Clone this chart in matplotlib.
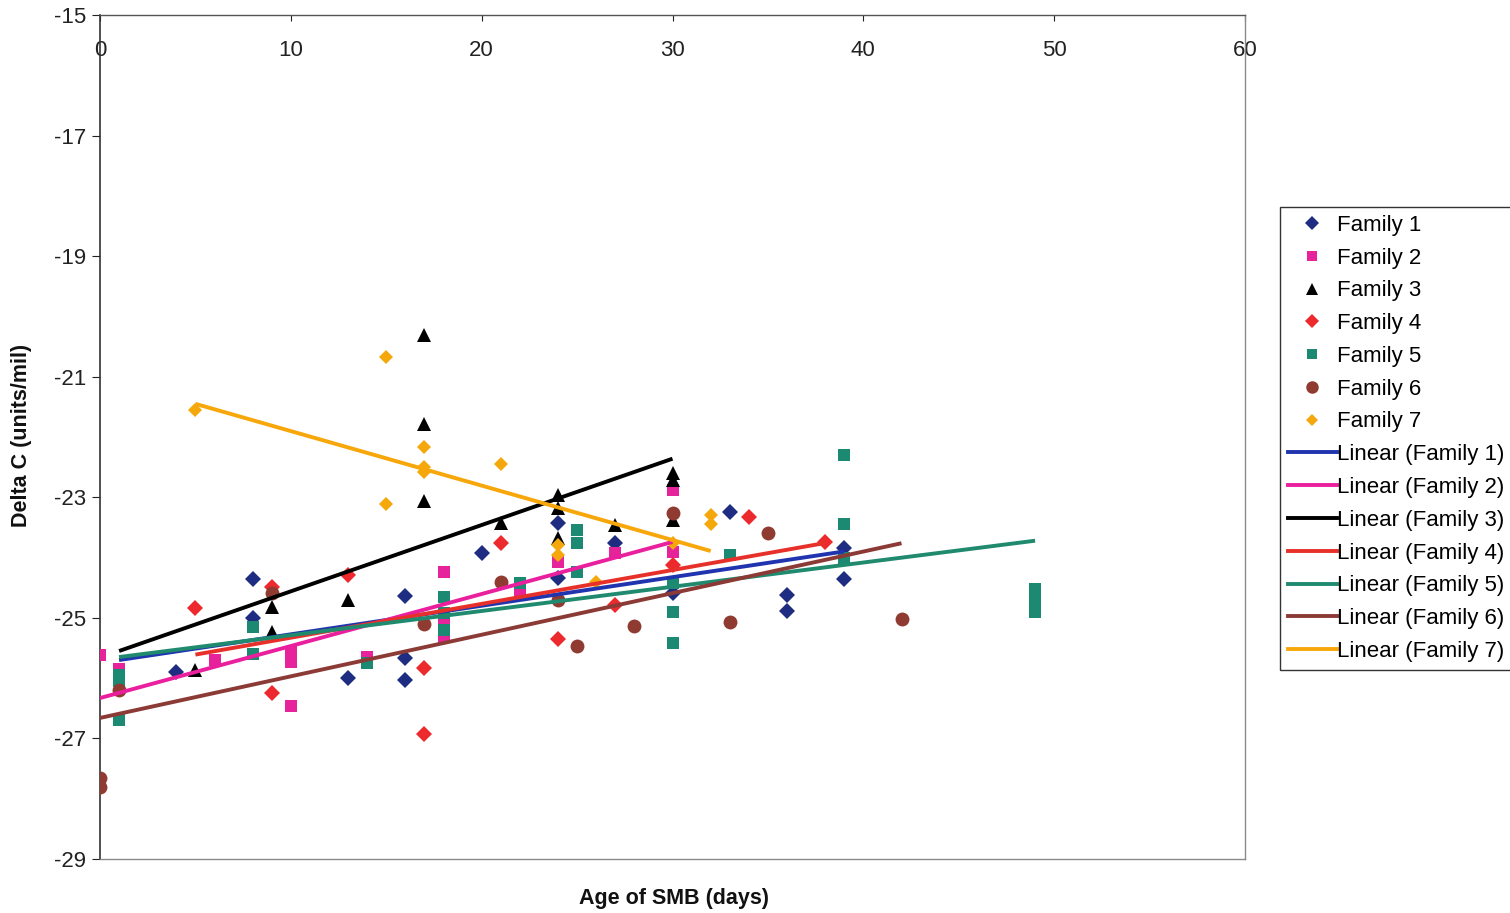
import numpy as np
import matplotlib
matplotlib.use("Agg")
import matplotlib.pyplot as plt
from matplotlib.lines import Line2D

plt.rcParams['font.family'] = ['Liberation Sans', 'DejaVu Sans']
plt.rcParams['axes.unicode_minus'] = False

# ---- data: age (days) and delta C per family ----
fam1_x = [4, 8, 8, 13, 16, 16, 16, 20, 24, 24, 27, 30, 33, 36, 36, 39, 39]
fam1_y = [-25.9, -24.35, -25.0, -26.0, -24.63, -25.66, -26.03, -23.92, -23.42, -24.34,
          -23.76, -24.59, -23.24, -24.62, -24.88, -23.84, -24.35]

fam2_x = [0, 1, 6, 10, 10, 10, 14, 18, 18, 18, 22, 24, 27, 30, 30]
fam2_y = [-25.62, -25.85, -25.7, -25.57, -25.73, -26.47, -25.65, -24.24, -25.03, -25.31,
          -24.59, -24.07, -23.92, -22.88, -23.9]

fam3_x = [5, 9, 9, 13, 17, 17, 17, 21, 24, 24, 24, 27, 30, 30, 30]
fam3_y = [-25.86, -24.82, -25.23, -24.7, -20.31, -21.78, -23.06, -23.42, -22.96, -23.18,
          -23.67, -23.46, -22.6, -22.72, -23.37]

fam4_x = [5, 9, 9, 13, 17, 17, 21, 24, 27, 30, 34, 38]
fam4_y = [-24.83, -24.49, -26.24, -24.29, -25.83, -26.92, -23.76, -25.35, -24.78, -24.12,
          -23.33, -23.74]

fam5_x = [1, 1, 1, 8, 8, 14, 18, 18, 18, 22, 25, 25, 25, 30, 30, 30, 33, 39, 39, 39, 49, 49, 49]
fam5_y = [-25.95, -26.05, -26.69, -25.15, -25.6, -25.75, -24.65, -24.92, -25.2, -24.42,
          -23.54, -23.76, -24.24, -24.42, -24.9, -25.41, -23.96, -22.3, -23.44, -24.0,
          -24.52, -24.72, -24.9]

fam6_x = [0, 0, 1, 9, 17, 21, 24, 25, 28, 30, 33, 35, 42]
fam6_y = [-27.65, -27.8, -26.2, -24.59, -25.1, -24.4, -24.7, -25.46, -25.13, -23.26,
          -25.07, -23.6, -25.02]

fam7_x = [5, 15, 15, 17, 17, 17, 21, 24, 24, 26, 30, 32, 32]
fam7_y = [-21.55, -20.67, -23.11, -22.16, -22.5, -22.58, -22.45, -23.79, -23.96, -24.4,
          -23.76, -23.3, -23.45]

# linear trendlines: slope, intercept and fitted x-span per family
fit_slope = [0.0474, 0.0863, 0.110, 0.0561, 0.0402, 0.0690, -0.0904]
fit_icpt = [-25.747, -26.33, -25.66, -25.89, -25.69, -26.66, -20.998]
fit_x0 = [1, 0, 1, 5, 1, 0, 5]
fit_x1 = [39, 30, 30, 38, 49, 42, 32]

series_x = [fam1_x, fam2_x, fam3_x, fam4_x, fam5_x, fam6_x, fam7_x]
series_y = [fam1_y, fam2_y, fam3_y, fam4_y, fam5_y, fam6_y, fam7_y]
names = [f"Family {i}" for i in range(1, 8)]

# ---- styling ----
marker_colors = ['#1e2c82', '#e6239b', '#000000', '#ec2a2e', '#1c8a72', '#8f3b31', '#f5a80c']
line_colors = ['#1f34ae', '#ea1f9e', '#000000', '#e8302a', '#1f8a6e', '#8b3a35', '#f7a70a']
markers = ['D', 's', '^', 'D', 's', 'o', 'D']
msizes = [8.0, 8.4, 10.0, 7.7, 8.4, 10.0, 7.3]

fig = plt.figure(figsize=(15.1, 9.13), dpi=100)
ax = fig.add_axes([100 / 1510, 1 - 859 / 913, 1145 / 1510, 844 / 913])

for xs, ys, c, m, s in zip(series_x, series_y, marker_colors, markers, msizes):
    ax.plot(xs, ys, linestyle='none', marker=m, markersize=s, color=c,
            markeredgewidth=0, zorder=3)

for k in range(7):
    xx = np.array([fit_x0[k], fit_x1[k]], dtype=float)
    ax.plot(xx, fit_slope[k] * xx + fit_icpt[k], color=line_colors[k], lw=2.8,
            solid_capstyle='butt', zorder=4)

ax.set_xlim(0, 60)
ax.set_ylim(-29, -15)
ax.set_xticks(np.arange(0, 61, 10))
ax.set_yticks(np.arange(-29, -14, 2))

ax.tick_params(axis='x', top=True, bottom=False, labeltop=True, labelbottom=False,
               direction='in', length=4, pad=-33, labelsize=16, colors='#222222')
ax.tick_params(axis='y', direction='out', length=6, pad=4, labelsize=16, colors='#222222')

ax.spines['left'].set_color('#333333')
ax.spines['left'].set_linewidth(1.2)
ax.spines['top'].set_color('#555555')
ax.spines['top'].set_linewidth(1.0)
ax.spines['right'].set_color('#8a8a8a')
ax.spines['right'].set_linewidth(1.0)
ax.spines['bottom'].set_color('#8a8a8a')
ax.spines['bottom'].set_linewidth(1.0)

fig.text(674 / 1510, 1 - 898 / 913, "Age of SMB (days)", ha='center', va='center',
         fontsize=15.5, fontweight='bold', color='#111111')
fig.text(22 / 1510, 1 - 435 / 913, "Delta C (units/mil)", ha='center', va='center',
         rotation=90, fontsize=15.5, fontweight='bold', color='#111111')

handles = []
for c, m, s, n in zip(marker_colors, markers, msizes, names):
    handles.append(Line2D([], [], linestyle='none', marker=m, markersize=s * 0.9,
                          color=c, markeredgewidth=0, label=n))
for c, n in zip(line_colors, names):
    handles.append(Line2D([], [], color=c, lw=2.8, label=f"Linear ({n})"))

leg = fig.legend(handles=handles, loc='upper left',
                 bbox_to_anchor=(1280 / 1510, 1 - 207 / 913), fontsize=16,
                 frameon=True, fancybox=False, framealpha=1, edgecolor='#333333',
                 borderpad=0.35, labelspacing=0.53, handlelength=2.2,
                 handletextpad=0.0, borderaxespad=0)
leg.get_frame().set_linewidth(1.0)

fig.savefig("out.png", dpi=100, facecolor='white')
